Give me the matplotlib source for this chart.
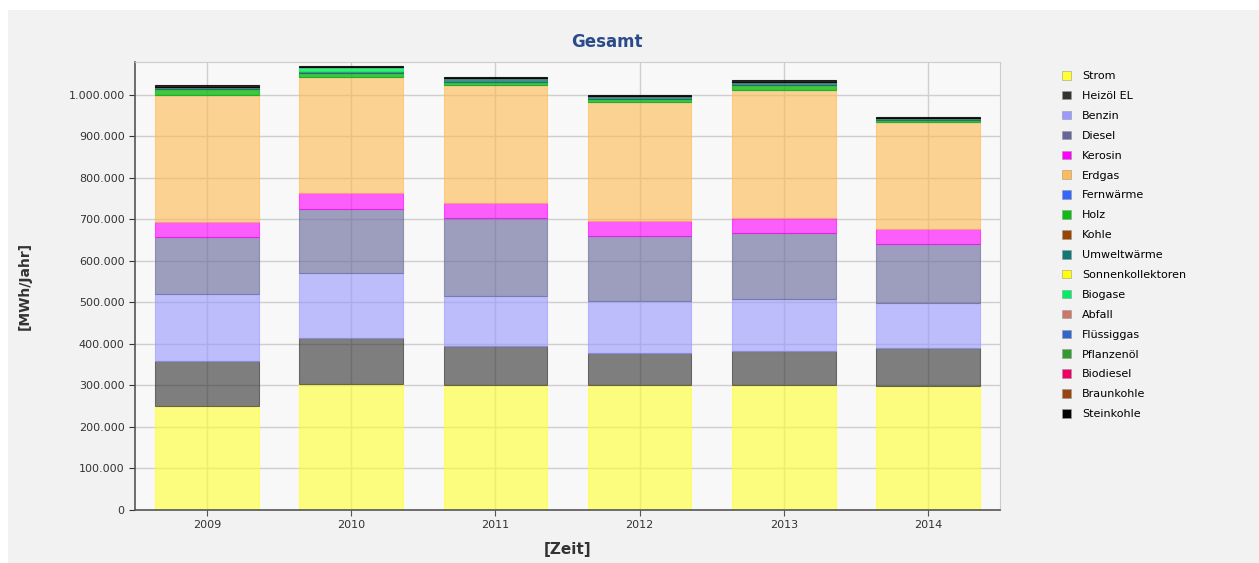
import numpy as np
import matplotlib.pyplot as plt
from matplotlib.patches import Patch, Rectangle
from matplotlib.ticker import FuncFormatter

# Jahre und Energieträger (MWh/Jahr)
years = ['2009', '2010', '2011', '2012', '2013', '2014']
carriers = ['Strom', 'Heizöl EL', 'Benzin', 'Diesel', 'Kerosin', 'Erdgas', 'Fernwärme',
            'Holz', 'Kohle', 'Umweltwärme', 'Sonnenkollektoren', 'Biogase', 'Abfall',
            'Flüssiggas', 'Pflanzenöl', 'Biodiesel', 'Braunkohle', 'Steinkohle']
colors = ['#ffff33', '#333333', '#9999ff', '#666699', '#ff00ff', '#ffbb55', '#3366ff',
          '#11bb11', '#994400', '#117777', '#ffff00', '#00ee66', '#cc7766',
          '#3366cc', '#339933', '#ee0066', '#994411', '#000000']

strom       = [250000, 304000, 301000, 300000, 301000, 299000]
heizoel     = [110000, 110000, 94000, 78000, 82000, 91000]
benzin      = [160000, 157000, 121000, 126000, 125000, 109000]
diesel      = [137000, 154000, 188000, 156000, 159000, 142000]
kerosin     = [38000, 39000, 36000, 36000, 37000, 36000]
erdgas      = [304000, 280000, 285000, 286000, 309000, 257000]
fernwaerme  = [0, 0, 0, 0, 0, 0]
holz        = [15000, 10000, 7000, 9000, 10000, 5000]
kohle       = [0, 0, 0, 0, 0, 0]
umwelt      = [6000, 5000, 8000, 6000, 8000, 5000]
sonnenk     = [0, 0, 0, 0, 0, 0]
biogase     = [0, 8000, 0, 0, 0, 0]
abfall      = [0, 0, 0, 0, 0, 0]
fluessiggas = [0, 0, 0, 0, 0, 0]
pflanzenoel = [0, 0, 0, 0, 0, 0]
biodiesel   = [0, 0, 0, 0, 0, 0]
braunkohle  = [0, 0, 0, 0, 0, 0]
steinkohle  = [4000, 4000, 4000, 4000, 4000, 3000]

series = [strom, heizoel, benzin, diesel, kerosin, erdgas, fernwaerme, holz, kohle,
          umwelt, sonnenk, biogase, abfall, fluessiggas, pflanzenoel, biodiesel,
          braunkohle, steinkohle]

fig = plt.figure(figsize=(12.59, 5.63), dpi=100, facecolor='white')
# grauer Hintergrund des Diagrammbereichs
fig.patches.append(Rectangle((8 / 1259, 0), 1, 1 - 10 / 563, transform=fig.transFigure,
                             facecolor='#f2f2f2', edgecolor='none', zorder=-5))

ax = fig.add_axes([135 / 1259, 1 - 510 / 563, 865 / 1259, 448 / 563])
ax.set_zorder(1)
ax.set_facecolor('#f8f8f8')

x = np.arange(len(years))
bottom = np.zeros(len(years))
for i, (name, col, vals) in enumerate(zip(carriers, colors, series)):
    vals = np.array(vals, dtype=float)
    # die schmalen Segmente oben etwas kräftiger
    a = 0.62 if i < 6 else 0.8
    ax.bar(x, vals, width=0.72, bottom=bottom, color=col, alpha=a,
           edgecolor=col, linewidth=0.8, zorder=2)
    bottom += vals

ax.set_xlim(-0.5, len(years) - 0.5)
ax.set_ylim(0, 1079500)
ax.set_xticks(x)
ax.set_xticklabels(years, fontsize=8, color='#333333')
ax.set_yticks(np.arange(0, 1000001, 100000))
ax.yaxis.set_major_formatter(FuncFormatter(lambda v, p: '{:,.0f}'.format(v).replace(',', '.')))
ax.tick_params(axis='y', labelsize=8, colors='#333333', length=4)
ax.tick_params(axis='x', length=4, colors='#555555', labelcolor='#333333')
ax.grid(True, color='#cfcfcf', linewidth=1, zorder=1)
ax.set_axisbelow(True)

for s in ['top', 'right']:
    ax.spines[s].set_color('#cccccc')
for s in ['left', 'bottom']:
    ax.spines[s].set_color('#555555')
    ax.spines[s].set_linewidth(1.2)

ax.set_xlabel('[Zeit]', fontsize=11, fontweight='bold', color='#333333', labelpad=8)
ax.set_ylabel('[MWh/Jahr]', fontsize=10, fontweight='bold', color='#333333', labelpad=26)

fig.text(607 / 1259, 1 - 42 / 563, 'Gesamt', ha='center', va='center',
         fontsize=12, fontweight='bold', color='#2b4a8a')

handles = [Patch(facecolor=c, edgecolor='#999999', linewidth=0.4, label=n)
           for n, c in zip(carriers, colors)]
fig.legend(handles=handles, loc='upper left', bbox_to_anchor=(1062 / 1259, 1 - 71 / 563),
           frameon=False, fontsize=8, handlelength=0.8, handleheight=0.8,
           handletextpad=1.0, labelspacing=0.88, borderaxespad=0, borderpad=0)

fig.savefig('out.png', dpi=100, facecolor=fig.get_facecolor())
